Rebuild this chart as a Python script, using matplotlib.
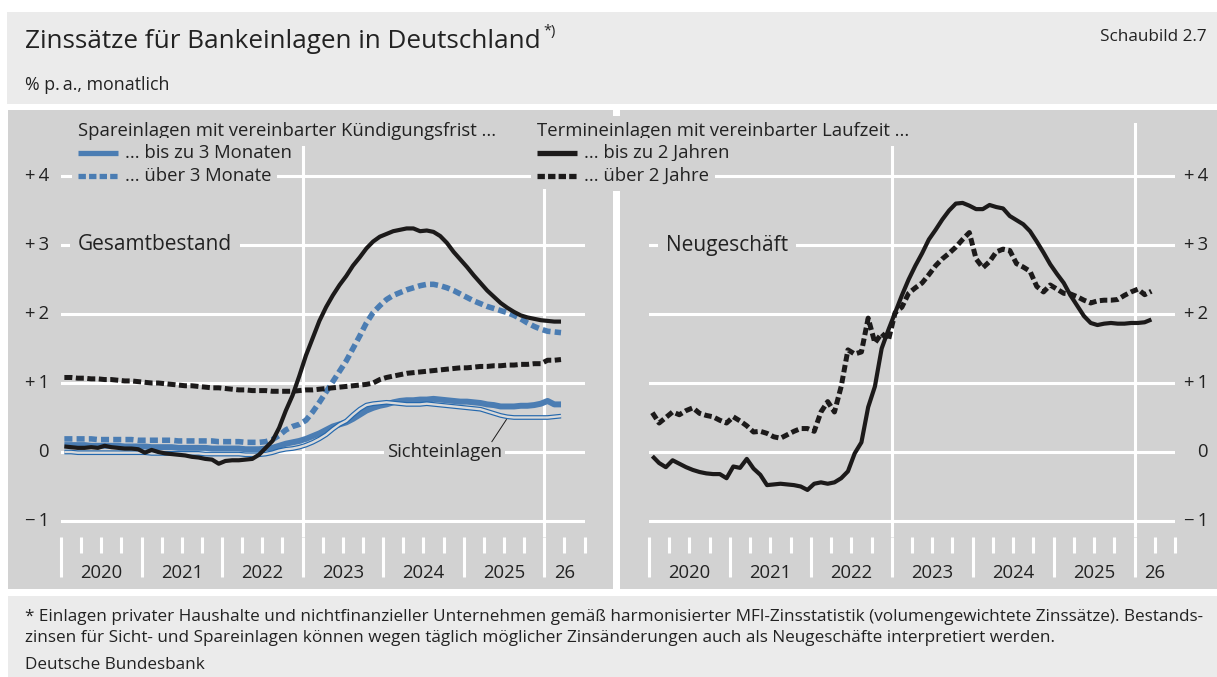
import numpy as np
import matplotlib
matplotlib.use('Agg')
import matplotlib.pyplot as plt
from matplotlib.patches import Rectangle
from matplotlib.lines import Line2D
from matplotlib import transforms

plt.rcParams['font.family'] = ['Open Sans', 'DejaVu Sans']

# ---------- Data: % p.a., monthly, Jan 2020 - Mar 2026 ----------
months = 2020 + (np.arange(75) + 0.5) / 12

# Gesamtbestand (outstanding amounts)
sicht = [0.0, 0.0, -0.01, -0.01, -0.01, -0.01, -0.01, -0.01, -0.01, -0.01, -0.01, -0.01,
         -0.01, -0.02, -0.02, -0.02, -0.02, -0.02, -0.02, -0.02, -0.02, -0.03, -0.03, -0.03,
         -0.03, -0.03, -0.03, -0.04, -0.04, -0.04, -0.03, -0.01, 0.02, 0.04, 0.05, 0.07,
         0.10, 0.14, 0.19, 0.25, 0.33, 0.40, 0.45, 0.54, 0.62, 0.68, 0.70, 0.71,
         0.72, 0.71, 0.70, 0.69, 0.69, 0.69, 0.70, 0.69, 0.68, 0.67, 0.66, 0.65,
         0.64, 0.63, 0.62, 0.59, 0.56, 0.53, 0.51, 0.50, 0.50, 0.50, 0.50, 0.50,
         0.50, 0.51, 0.52]
spar_kurz = [0.10, 0.10, 0.10, 0.10, 0.09, 0.09, 0.09, 0.09, 0.09, 0.08, 0.08, 0.08,
             0.08, 0.07, 0.07, 0.07, 0.07, 0.06, 0.06, 0.06, 0.06, 0.06, 0.05, 0.05,
             0.05, 0.05, 0.05, 0.04, 0.04, 0.04, 0.05, 0.06, 0.09, 0.12, 0.14, 0.16,
             0.19, 0.23, 0.27, 0.32, 0.37, 0.40, 0.43, 0.48, 0.54, 0.60, 0.64, 0.67,
             0.69, 0.72, 0.74, 0.75, 0.75, 0.76, 0.76, 0.77, 0.76, 0.75, 0.74, 0.73,
             0.73, 0.72, 0.71, 0.69, 0.68, 0.66, 0.66, 0.66, 0.67, 0.67, 0.68, 0.70,
             0.74, 0.69, 0.69]
spar_lang = [0.19, 0.19, 0.19, 0.19, 0.19, 0.18, 0.18, 0.18, 0.18, 0.18, 0.18, 0.17,
             0.17, 0.17, 0.17, 0.17, 0.17, 0.16, 0.16, 0.16, 0.16, 0.16, 0.16, 0.15,
             0.15, 0.15, 0.15, 0.14, 0.14, 0.14, 0.15, 0.18, 0.24, 0.32, 0.37, 0.40,
             0.46, 0.58, 0.72, 0.87, 1.02, 1.17, 1.32, 1.50, 1.68, 1.87, 2.02, 2.12,
             2.21, 2.27, 2.31, 2.35, 2.38, 2.41, 2.43, 2.43, 2.41, 2.38, 2.34, 2.29,
             2.24, 2.19, 2.15, 2.11, 2.08, 2.05, 2.02, 1.98, 1.93, 1.87, 1.82, 1.78,
             1.75, 1.74, 1.73]
term_kurz = [0.08, 0.07, 0.06, 0.06, 0.07, 0.06, 0.09, 0.07, 0.06, 0.05, 0.05, 0.04,
             -0.01, 0.03, 0.00, -0.02, -0.03, -0.04, -0.05, -0.07, -0.08, -0.10, -0.11, -0.17,
             -0.13, -0.12, -0.12, -0.11, -0.10, -0.04, 0.06, 0.16, 0.35, 0.60, 0.82, 1.10,
             1.40, 1.65, 1.90, 2.10, 2.27, 2.42, 2.55, 2.70, 2.82, 2.95, 3.05, 3.12,
             3.16, 3.20, 3.22, 3.24, 3.24, 3.20, 3.21, 3.19, 3.13, 3.03, 2.90, 2.79,
             2.68, 2.56, 2.45, 2.34, 2.25, 2.16, 2.09, 2.03, 1.98, 1.95, 1.93, 1.91,
             1.90, 1.89, 1.89]
term_lang = [1.08, 1.08, 1.07, 1.07, 1.06, 1.06, 1.05, 1.05, 1.04, 1.03, 1.03, 1.02,
             1.01, 1.00, 1.00, 0.99, 0.98, 0.97, 0.96, 0.96, 0.95, 0.94, 0.93, 0.93,
             0.92, 0.91, 0.90, 0.90, 0.89, 0.89, 0.89, 0.88, 0.88, 0.88, 0.88, 0.89,
             0.90, 0.90, 0.91, 0.92, 0.93, 0.94, 0.95, 0.96, 0.97, 0.98, 1.00, 1.05,
             1.08, 1.10, 1.12, 1.14, 1.15, 1.16, 1.17, 1.18, 1.19, 1.20, 1.21, 1.22,
             1.22, 1.23, 1.24, 1.24, 1.25, 1.25, 1.26, 1.26, 1.27, 1.27, 1.28, 1.28,
             1.33, 1.33, 1.34]

# Neugeschaeft (new business)
neu_kurz = [-0.06, -0.16, -0.22, -0.12, -0.17, -0.22, -0.26, -0.29, -0.31, -0.32, -0.32, -0.38,
            -0.21, -0.23, -0.10, -0.24, -0.33, -0.48, -0.47, -0.46, -0.47, -0.48, -0.50, -0.55,
            -0.46, -0.44, -0.46, -0.44, -0.38, -0.28, -0.02, 0.14, 0.65, 0.95, 1.50, 1.77,
            2.02, 2.27, 2.50, 2.70, 2.88, 3.08, 3.22, 3.37, 3.50, 3.60, 3.61, 3.57,
            3.52, 3.52, 3.58, 3.55, 3.53, 3.42, 3.36, 3.30, 3.20, 3.05, 2.89, 2.72,
            2.58, 2.45, 2.27, 2.12, 1.97, 1.87, 1.84, 1.86, 1.87, 1.86, 1.86, 1.87,
            1.87, 1.88, 1.92]
neu_lang = [0.57, 0.42, 0.50, 0.58, 0.54, 0.60, 0.64, 0.56, 0.53, 0.51, 0.46, 0.42,
            0.51, 0.45, 0.38, 0.29, 0.30, 0.27, 0.22, 0.20, 0.25, 0.30, 0.34, 0.34,
            0.30, 0.58, 0.73, 0.58, 0.95, 1.48, 1.42, 1.45, 1.94, 1.58, 1.72, 1.62,
            2.02, 2.10, 2.30, 2.38, 2.45, 2.57, 2.70, 2.80, 2.88, 2.97, 3.08, 3.18,
            2.80, 2.67, 2.76, 2.90, 2.94, 2.92, 2.73, 2.68, 2.62, 2.40, 2.32, 2.42,
            2.36, 2.30, 2.29, 2.25, 2.20, 2.16, 2.19, 2.20, 2.20, 2.21, 2.27, 2.32,
            2.36, 2.28, 2.33]

y_ticks = [4, 3, 2, 1, 0, -1]
y_labels = ['+\u20094', '+\u20093', '+\u20092', '+\u20091', '0', '\u2212\u20091']
year_pos = [2020.5, 2021.5, 2022.5, 2023.5, 2024.5, 2025.5, 2026.25]
year_labels = ['2020', '2021', '2022', '2023', '2024', '2025', '26']

# ---------- Style ----------
W, H = 1217, 677
HEAD_BG = '#ebebeb'
PANEL = '#d2d2d2'
BLUE = '#4b7db3'
SICHT = '#2468ad'
BLACK = '#1c1a1a'
TXT = '#222222'
FS_LEG = 13.3
FS_TICK = 13.3


def fx(px):
    return px / W


def fy(py):
    return 1 - py / H


def rect(x0, y0, x1, y1, color, z):
    r = Rectangle((fx(x0), fy(y1)), (x1 - x0) / W, (y1 - y0) / H,
                  transform=fig.transFigure, fc=color, ec='none', zorder=z)
    fig.patches.append(r)


fig = plt.figure(figsize=(W / 100, H / 100), dpi=100)
fig.patch.set_facecolor('white')

# background boxes
rect(7, 12, 1217, 104, HEAD_BG, -10)
rect(8, 110, 613, 589, PANEL, -10)
rect(620, 110, 1217, 589, PANEL, -10)
rect(8, 596, 1217, 677, HEAD_BG, -10)

# ---------- Titles ----------
title = fig.text(fx(25), fy(41), 'Zinssätze für Bankeinlagen in Deutschland',
                 fontsize=18.8, color=TXT, va='center', ha='left')
renderer = fig.canvas.get_renderer()
bb = title.get_window_extent(renderer)
fig.text(fx(bb.x1 + 3), fy(31), '*)', fontsize=10.5, color=TXT, va='center', ha='left')
fig.text(fx(1207), fy(37), 'Schaubild 2.7', fontsize=12.3, color=TXT, va='center', ha='right')
fig.text(fx(25), fy(85), '% p.\u2009a., monatlich', fontsize=12.8, color=TXT, va='center', ha='left')

# ---------- Panels ----------
ymin, ymax = -(537 - 452) / 69, (452 - 123) / 69
axL = fig.add_axes([fx(61), fy(537), (584.5 - 61) / W, (537 - 123) / H])
axR = fig.add_axes([fx(649), fy(537), (1175 - 649) / W, (537 - 123) / H])

for ax in (axL, axR):
    ax.set_facecolor('none')
    ax.set_xlim(2020, 2026.5)
    ax.set_ylim(ymin, ymax)
    for s in ax.spines.values():
        s.set_visible(False)
    for v in y_ticks:
        ax.axhline(v, color='white', lw=2.2, zorder=1)
    for v in (2023, 2026):
        ax.axvline(v, color='white', lw=2.2, zorder=1)
    ax.set_yticks([])
    ax.set_xticks(range(2020, 2027))
    ax.set_xticks(np.arange(2020, 2026.51, 0.25), minor=True)
    ax.tick_params(which='major', direction='out', length=29, width=2.2,
                   color='white', labelbottom=False)
    ax.tick_params(which='minor', direction='out', length=11.5, width=2.2, color='white')
    tr = transforms.blended_transform_factory(ax.transData, fig.transFigure)
    for p, lab in zip(year_pos, year_labels):
        ax.text(p, fy(573), lab, transform=tr, ha='center', va='center',
                fontsize=FS_TICK, color=TXT)

trL = transforms.blended_transform_factory(fig.transFigure, axL.transData)
trR = transforms.blended_transform_factory(fig.transFigure, axR.transData)
for v, lab in zip(y_ticks, y_labels):
    fig.text(fx(49), v, lab, transform=trL, ha='right', va='center', fontsize=FS_TICK, color=TXT)
    fig.text(fx(1208), v, lab, transform=trR, ha='right', va='center', fontsize=FS_TICK, color=TXT)

# left: Gesamtbestand
axL.plot(months, spar_kurz, color=BLUE, lw=4.3, zorder=2, solid_capstyle='butt')
axL.plot(months, sicht, color=SICHT, lw=3.4, zorder=3, solid_capstyle='butt')
axL.plot(months, sicht, color='#dadada', lw=1.7, zorder=3.1, solid_capstyle='butt')
axL.plot(months, spar_lang, color=BLUE, lw=4.0, dashes=(1.45, 0.75), zorder=4)
axL.plot(months, term_lang, color=BLACK, lw=3.6, dashes=(1.6, 0.7), zorder=5)
axL.plot(months, term_kurz, color=BLACK, lw=3.0, zorder=6, solid_capstyle='butt')

# right: Neugeschaeft
axR.plot(months, neu_lang, color=BLACK, lw=3.6, dashes=(1.5, 0.7), zorder=5)
axR.plot(months, neu_kurz, color=BLACK, lw=3.0, zorder=6, solid_capstyle='butt')

box = dict(boxstyle='square,pad=0.4', fc=PANEL, ec='none')
axL.text(2020.21, 3, 'Gesamtbestand', fontsize=15, color=TXT, va='center', ha='left',
         bbox=box, zorder=7)
axR.text(2020.21, 3, 'Neugeschäft', fontsize=15, color=TXT, va='center', ha='left',
         bbox=box, zorder=7)

# Sichteinlagen label with leader
axL.text(2024.76, 0, 'Sichteinlagen', fontsize=13.3, color=TXT, va='center', ha='center',
         bbox=dict(boxstyle='square,pad=0.15', fc=PANEL, ec='none'), zorder=7)
axL.plot([2025.35, 2025.53], [0.15, 0.47], color=BLACK, lw=0.7, zorder=7)

# ---------- Legend (manual, rows mask the grid) ----------
row_box = dict(boxstyle='square,pad=0.3', fc=PANEL, ec='none')


def legend_block(x_left, header, entries):
    fig.text(fx(x_left), fy(131), header, fontsize=FS_LEG, color=TXT, va='center', ha='left',
             bbox=row_box, zorder=5)
    for (label, color, lw, dashes), ypx in zip(entries, (153, 176)):
        rect(x_left - 6, ypx - 12.5, x_left + 48, ypx + 12.5, PANEL, 4)
        fig.text(fx(x_left + 47), fy(ypx), label, fontsize=FS_LEG, color=TXT, va='center',
                 ha='left', bbox=row_box, zorder=5)
        ln = Line2D([fx(x_left), fx(x_left + 40)], [fy(ypx), fy(ypx)], transform=fig.transFigure,
                    color=color, lw=lw, zorder=6, solid_capstyle='butt')
        if dashes:
            ln.set_dashes(dashes)
        fig.lines.append(ln)


legend_block(78, 'Spareinlagen mit vereinbarter Kündigungsfrist ...',
             [('... bis zu 3 Monaten', BLUE, 3.8, None),
              ('... über 3 Monate', BLUE, 3.8, (1.4, 0.6))])
legend_block(537, 'Termineinlagen mit vereinbarter Laufzeit ...',
             [('... bis zu 2 Jahren', BLACK, 3.8, None),
              ('... über 2 Jahre', BLACK, 3.8, (1.4, 0.6))])

# ---------- Footer ----------
FS_FOOT = 12.3
fig.text(fx(25), fy(617), '* Einlagen privater Haushalte und nichtfinanzieller Unternehmen gemäß '
         'harmonisierter MFI-Zinsstatistik (volumengewichtete Zinssätze). Bestands-',
         fontsize=FS_FOOT, color=TXT, va='center', ha='left')
fig.text(fx(25), fy(638), 'zinsen für Sicht- und Spareinlagen können wegen täglich möglicher '
         'Zinsänderungen auch als Neugeschäfte interpretiert werden.',
         fontsize=FS_FOOT, color=TXT, va='center', ha='left')
fig.text(fx(25), fy(665), 'Deutsche Bundesbank', fontsize=FS_FOOT, color=TXT, va='center', ha='left')

fig.savefig('out.png', dpi=100, facecolor='white')
